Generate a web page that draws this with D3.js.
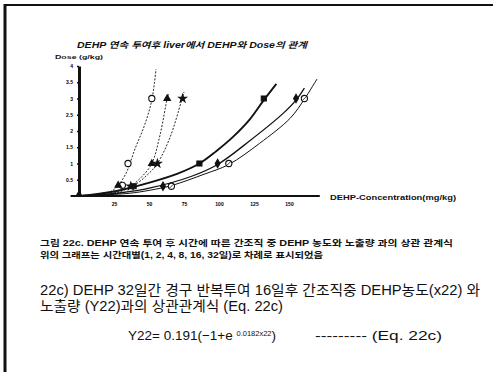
<!DOCTYPE html>
<html>
<head>
<meta charset="utf-8">
<script src="https://cdn.jsdelivr.net/npm/d3@7"></script>
<style>
  body { margin: 0; background: #fff; }
  svg { display: block; }
  .tick text { font-family: "Liberation Sans", Arial, sans-serif; font-weight: bold; font-size: 5px; }
  .kr { font-family: "Liberation Sans", "Noto Sans CJK KR", sans-serif; fill: #111; }
</style>
</head>
<body>
<script>
// Series labels (days of dosing)
var days = ["1일", "2일", "4일", "8일", "16일", "32일"];

// Measured points (x: DEHP mg/kg in liver, y: dose g/kg)
var markers1 = [[31, 0.33], [35, 1], [52, 3]];
var markers2 = [[28, 0.33], [52, 1], [63, 3]];
var markers3 = [[37, 0.3], [56, 1], [74, 3]];
var markers4 = [[39, 0.3], [86, 1], [132, 3]];
var markers5 = [[60, 0.3], [99, 1], [155, 3]];
var markers6 = [[66, 0.3], [107, 1], [161, 3]];

// Fitted curves
var curve1 = [[0, 0], [15, 0.04], [25, 0.2], [33, 0.65], [40, 1.45], [47, 2.2], [52, 2.95], [55, 3.9]];
var curve2 = [[0, 0], [20, 0.05], [35, 0.25], [45, 0.6], [52, 1], [58, 1.9], [63, 3], [64, 3.15]];
var curve3 = [[0, 0], [25, 0.08], [40, 0.35], [50, 0.7], [56, 1], [65, 1.8], [73, 2.9], [75, 3.2]];
var curve4 = [[0, 0], [25, 0.14], [51, 0.42], [70, 0.68], [86, 1], [98, 1.38], [110, 1.82], [122, 2.36], [132, 2.95], [141, 3.45]];
var curve5 = [[0, 0], [30, 0.1], [51, 0.25], [80, 0.6], [99, 0.97], [122, 1.7], [146, 2.55], [155, 2.95], [161, 3.32]];
var curve6 = [[0, 0], [35, 0.08], [51, 0.18], [66, 0.32], [90, 0.68], [107, 0.97], [129, 1.62], [151, 2.4], [161, 2.98], [170, 3.6]];

// Axis ticks
var yTicks = [0.5, 1, 1.5, 2, 2.5, 3, 3.5, 4];
var xTicks = [25, 50, 75, 100, 125, 150];

var w = 493, h = 372;

var svg = d3.select("body").append("svg")
    .attr("width", w)
    .attr("height", h);

// Page frame (top and left edges only)
svg.append("line").attr("x1", 4).attr("x2", w).attr("y1", 5).attr("y2", 5)
    .attr("stroke", "#111").attr("stroke-width", 2);
svg.append("line").attr("x1", 5).attr("x2", 5).attr("y1", 4).attr("y2", h)
    .attr("stroke", "#111").attr("stroke-width", 3);

var x = d3.scaleLinear().domain([0, 150]).range([79, 289]);
var y = d3.scaleLinear().domain([0, 4]).range([196, 66]);

var series = [
    { name: days[0], pts: markers1, line: curve1, sym: d3.symbolCircle, size: 30, fill: "#fff", width: 0.9, dash: "2,1.5" },
    { name: days[1], pts: markers2, line: curve2, sym: d3.symbolTriangle, size: 18, fill: "#111", width: 0.9, dash: "2,1.5" },
    { name: days[2], pts: markers3, line: curve3, sym: d3.symbolStar, size: 18, fill: "#111", width: 0.9, dash: "2,1.5" },
    { name: days[3], pts: markers4, line: curve4, sym: d3.symbolSquare, size: 26, fill: "#111", width: 1.9, dash: null },
    { name: days[4], pts: markers5, line: curve5, sym: d3.symbolDiamond, size: 20, fill: "#111", width: 1.3, dash: null },
    { name: days[5], pts: markers6, line: curve6, sym: d3.symbolCircle, size: 30, fill: "#fff", width: 1, dash: null, cross: true }
];

// helper for text that must fill a given width
function label(tx, ty, size, len, str, weight, style) {
    return svg.append("text").attr("class", "kr")
        .attr("x", tx).attr("y", ty)
        .attr("textLength", len)
        .attr("lengthAdjust", "spacingAndGlyphs")
        .style("font-size", size + "px")
        .style("font-weight", weight || "normal")
        .style("font-style", style || "normal")
        .text(str);
}

// Title
label(77, 48, 8.5, 230, "DEHP 연속 투여후 liver에서 DEHP와 Dose의 관계", "bold", "italic");
label(55, 59, 6, 48, "Dose (g/kg)", "bold");

// Curves
var lineGen = d3.line()
    .x(function(d){ return x(d[0]); })
    .y(function(d){ return y(d[1]); })
    .curve(d3.curveCatmullRom.alpha(0.5));

svg.selectAll(".curve")
    .data(series)
    .enter()
    .append("path")
    .attr("class", "curve")
    .attr("d", function(d){ return lineGen(d.line); })
    .attr("fill", "none")
    .attr("stroke", "#111")
    .attr("stroke-width", function(d){ return d.width; })
    .attr("stroke-dasharray", function(d){ return d.dash; });

// Markers
series.forEach(function(s){
    var g = svg.append("g");
    g.selectAll("path")
        .data(s.pts)
        .enter()
        .append("path")
        .attr("transform", function(d){ return "translate(" + x(d[0]) + "," + y(d[1]) + ")"; })
        .attr("d", d3.symbol().type(s.sym).size(s.size))
        .attr("fill", s.fill)
        .attr("stroke", "#111")
        .attr("stroke-width", 1.1);
    if (s.cross) {
        g.selectAll("line")
            .data(s.pts)
            .enter()
            .append("line")
            .attr("x1", function(d){ return x(d[0]) - 2; })
            .attr("x2", function(d){ return x(d[0]) + 2; })
            .attr("y1", function(d){ return y(d[1]) + 2; })
            .attr("y2", function(d){ return y(d[1]) - 2; })
            .attr("stroke", "#111").attr("stroke-width", 0.8);
    }
});

// Y axis
var yAxis = d3.axisLeft(y)
    .tickValues(yTicks)
    .tickSize(2)
    .tickSizeOuter(0)
    .tickFormat(function(d){ return d3.format("")(d); });

var yg = svg.append("g")
    .attr("transform", "translate(" + x(0) + ",0)")
    .call(yAxis);
yg.select(".domain").attr("stroke", "#111").attr("stroke-width", 3);
yg.selectAll(".tick line").attr("stroke", "#111").attr("stroke-width", 1.5);
yg.selectAll(".tick text").attr("x", -6);

// X axis
var xAxis = d3.axisBottom(x)
    .tickValues(xTicks)
    .tickSize(0)
    .tickPadding(6)
    .tickSizeOuter(0);

var xg = svg.append("g")
    .attr("transform", "translate(0," + y(0) + ")")
    .call(xAxis);
xg.select(".domain").remove();

svg.append("line")
    .attr("x1", x(-6)).attr("x2", x(172))
    .attr("y1", y(0)).attr("y2", y(0))
    .attr("stroke", "#111").attr("stroke-width", 2);

// small base at the origin
svg.append("path")
    .attr("d", d3.symbol().type(d3.symbolTriangle).size(22))
    .attr("transform", "translate(" + x(0) + "," + (y(0) - 2) + ")")
    .attr("fill", "#111");

label(330, 199.5, 7, 126, "DEHP-Concentration(mg/kg)", "bold");

// Caption
label(40, 246, 8.5, 413, "그림 22c. DEHP 연속 투여 후 시간에 따른 간조직 중 DEHP 농도와 노출량 과의  상관 관계식", "bold");
label(40, 257.5, 8.5, 283, "위의 그래프는 시간대별(1, 2, 4, 8, 16, 32일)로 차례로 표시되었음", "bold");

// Main text
label(40, 295, 14, 440, "22c) DEHP 32일간 경구 반복투여 16일후 간조직중 DEHP농도(x22) 와");
label(40, 311, 14, 243, "노출량 (Y22)과의 상관관계식 (Eq. 22c)");

var eq = svg.append("text").attr("class", "kr")
    .attr("x", 128).attr("y", 340)
    .style("font-size", "13.5px");
eq.append("tspan").text("Y22= 0.191(\u22121+e ");
eq.append("tspan").attr("dy", -4.5).style("font-size", "7.5px").text("0.0182x22");
eq.append("tspan").attr("dy", 4.5).text(")");
label(315, 340, 13.5, 127, "--------- (Eq. 22c)");
</script>
</body>
</html>
